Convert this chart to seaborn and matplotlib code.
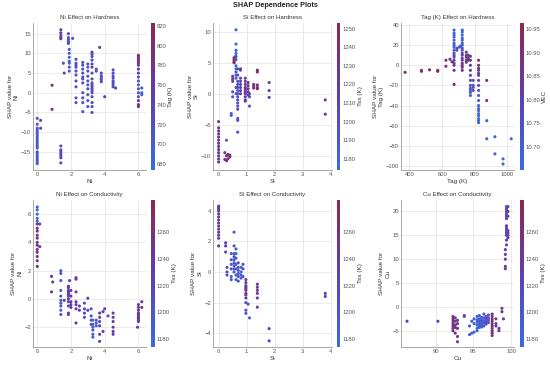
import numpy as np
import pandas as pd
import matplotlib
matplotlib.use("Agg")
import matplotlib.pyplot as plt
import seaborn as sns
from matplotlib.colors import LinearSegmentedColormap, Normalize
from matplotlib.cm import ScalarMappable
from matplotlib.ticker import MultipleLocator

# groups of points: (feature value, shap values, colour feature value)
ni_hard = [
    (0.0, [-6.5, -8, -9, -9.5, -10, -10.5, -11, -11.5, -12, -12.5, -13, -13.5, -14, -15, -15.5, -16, -16.5, -17, -17.5, -18], 705),
    (0.2, [-7, -9], 760),
    (0.88, [-4.2, 1.9], 790),
    (1.4, [16, 15.2, 14.5, 14, 13.7], 760),
    (1.4, [-13.5, -14.5, -15, -15.5, -16, -16.5, -17.8], 730),
    (1.55, [7.5], 720),
    (1.6, [5], 735),
    (1.85, [15, 14, 13.5, 13, 12.8, 12.5], 715),
    (1.9, [11, 10, 9, 8, 7.5, 6.5, 5.5], 700),
    (2.1, [13.8], 720),
    (2.3, [8.5, 7.5, 7, 6.5, 5.5, 4.5, 3, 1.5, -1.3, -2.5], 725),
    (2.7, [7.7, 7, 6, 5, 4, 3.5, 2.5, 0, -1.3, -2.5, -4.8], 720),
    (3.0, [7.3, 6.5, 5.5, 4.2, 3, 2, 1, -0.5, -2, -3.5], 715),
    (3.25, [10.3, 9.8, 9.2, 8.3, 7.3, 6.5, 5, 3.5, 2.5, 2, 1.5, 1, 0.5, 0, -1, -2.5, -3.5, -5], 730),
    (3.5, [6, 5.5], 720),
    (3.7, [11.5], 760),
    (3.8, [5, 4.3, 3.8, 3.3, 2.8], 725),
    (4.0, [-1], 750),
    (4.5, [5.8, 5, 4.3, 3.7, 3, 2.5, 2, 1.5], 720),
    (4.65, [1.2], 740),
    (6.0, [9.5, 9, 8.5, 8, 7.5, 7, 6, 5, 4, 3, 2, 1, 0, -1, -2, -3, -3.5],
     [810, 805, 800, 795, 790, 780, 760, 740, 720, 710, 700, 700, 710, 730, 760, 780, 790]),
    (6.2, [1.2, 0, -0.5], 700),
]

si_hard = [
    (0.0, [-4.5, -5.5, -6, -6.5, -7, -7.5, -8, -8.5, -9, -9.5, -10, -10.5, -11], 1225),
    (0.22, [-9.5, -10.6], 1230),
    (0.28, [-10, -10.8, -7.5], [1235, 1230, 1185]),
    (0.33, [-10.5, -9.8], 1240),
    (0.4, [-10.2, -9.9], 1235),
    (0.45, [-3.2, -3.5], 1185),
    (0.5, [2.8, 2.4, 2, 0.3, -0.5], [1230, 1225, 1220, 1200, 1195]),
    (0.55, [5.8, 5.5, 5.2, 5], 1245),
    (0.6, [6, 5.5], 1240),
    (0.62, [10.3, 8, 7, 6.5, 6, 5.5, 4.5, 4, 3.5, 3, 2.5, 1, 0], 1185),
    (0.68, [4, 3, 2, 1.5, 1, 0.5, 0, -0.5, -1, -1.5, -2, -2.5, -4, -4.3, -6.2], 1200),
    (0.78, [4, 3.8, 2.5, 2, 1.5, 1, 0.5, 0], 1215),
    (0.95, [2.5, 2, 1.5, 1, 0.8, 0.5, 0.2, 0, -0.5, -1, -1.2], 1220),
    (1.05, [1.8, 1.3, 0.8, 0.3, -0.2], 1230),
    (1.1, [0, -0.5, -2], 1195),
    (1.25, [1.5, 1.2, 0.9], 1235),
    (1.38, [3.8, 3.5, 1.4, 1, 0.8], 1240),
    (1.8, [1.8, 0.5, -0.6], 1215),
    (3.8, [-1, -3.3], 1230),
]

tag_hard = [
    (373, [-7], 10.93),
    (473, [-5, -6], 10.92),
    (523, [-4.5], 10.92),
    (573, [-5, -6], 10.93),
    (623, [5, -1], 10.91),
    (648, [6], 10.90),
    (660, [3.5], 10.88),
    (673, [35, 32, 30, 28, 25, 22, 20, 18, 15, 12, 10, 8, 5, 2, 0, -5, -19],
     [10.67, 10.67, 10.67, 10.68, 10.68, 10.68, 10.69, 10.7, 10.72, 10.74, 10.76, 10.78, 10.8, 10.82, 10.84, 10.86, 10.9]),
    (690, [17, 15], 10.75),
    (705, [18], 10.72),
    (712, [19], 10.70),
    (723, [35, 33, 30, 27, 25, 22, 20, 17, 15, 12, 10, 7, 5, 2, 0, -2, -5],
     [10.67, 10.67, 10.68, 10.68, 10.69, 10.7, 10.71, 10.73, 10.75, 10.77, 10.79, 10.81, 10.83, 10.85, 10.86, 10.87, 10.88]),
    (748, [13, 10, 8, 5, 3], 10.85),
    (760, [10, 7, 5], 10.83),
    (773, [9, 5, 0, -5, -10, -15, -20, -23, -25, -27, -30],
     [10.9, 10.88, 10.85, 10.82, 10.8, 10.77, 10.74, 10.72, 10.7, 10.69, 10.68]),
    (790, [-15, -20, -22, -25], 10.75),
    (823, [5, 0, -3, -5, -8, -10, -15, -20, -25, -30, -35, -40, -43, -45, -48, -50, -53, -55, -57],
     [10.92, 10.9, 10.88, 10.86, 10.84, 10.82, 10.8, 10.78, 10.75, 10.72, 10.7, 10.69, 10.68, 10.68, 10.67, 10.67, 10.67, 10.67, 10.67]),
    (873, [-15, -35, -55, -73], [10.9, 10.9, 10.7, 10.68]),
    (923, [-71, -88], 10.68),
    (973, [-93, -98], 10.68),
    (1023, [-73], 10.68),
]

ni_cond = [
    (0.0, [6.5, 6.3, 6, 5.7, 5.5], 1185),
    (0.0, [5.3, 5, 4.8, 4.5, 4.3, 4, 3.8, 3.5, 3.3, 3, 2.7, 2.3], 1255),
    (0.15, [5.3, 3.7], 1240),
    (0.85, [1.6, 0.5], 1245),
    (0.92, [1.2], 1240),
    (1.4, [2, 1.8, 1.3, 0.6, 0.2, -0.1, -0.3, -0.5, -0.8, -1.1], 1195),
    (1.6, [-0.1], 1230),
    (1.85, [0.9, 0.8, 0.6, 0.5, 0.4, 0.3, 0.2, 0, -0.2, -0.5, -1, -1.1], 1235),
    (1.92, [1.3], 1225),
    (2.0, [0.6, 0.2, -0.2, -0.4, -0.6], 1230),
    (2.3, [1.5, 1.4, 0.5, -0.2, -0.4, -0.7, -1.7], 1235),
    (2.5, [-0.5, -0.8], 1230),
    (2.8, [-0.3, -0.7, -1, -1.3], 1215),
    (3.0, [0.05, -0.8], 1225),
    (3.2, [-0.7, -1.2, -1.5, -1.8], 1200),
    (3.3, [-1.5, -1.8, -2, -2.2, -2.5, -2.7], 1190),
    (3.5, [-1.5, -1.7, -1.9], 1195),
    (3.7, [-1, -1.3, -1.6, -1.9, -2.5, -3], 1230),
    (3.9, [-0.9, -2.3], 1230),
    (4.0, [-0.7], 1225),
    (4.2, [-1.2], 1220),
    (4.5, [-1, -1.3, -1.6, -2, -2.3, -2.5], 1235),
    (6.0, [-0.4, -0.6, -0.8, -1, -1.1, -1.2, -1.3, -1.4, -1.5, -1.6], 1240),
    (5.95, [-2], 1230),
    (6.2, [-0.2, -0.6], 1245),
]

si_cond = [
    (0.0, [4.3, 4.2, 4.1, 4, 3.8, 3.6, 3.4, 3.2, 3, 2.8, 2.6, 2.4, 2.2, 1.7], 1240),
    (0.25, [1.9, 1.7, 1.3], 1230),
    (0.3, [0.3, 0, -0.2], 1215),
    (0.45, [1.2, 0.8, 0.5, 0.2, -0.3, -0.5], 1205),
    (0.55, [2.6, 1.7, 1.2, 1, 0.8, 0.6, 0.4, 0.2, 0], 1200),
    (0.62, [1.5, 1.2, 0.9, 0.5, 0.2, -0.2, -0.5], 1195),
    (0.7, [0.6, 0.3, 0.1, -0.1, -0.3, -0.6], 1200),
    (0.8, [0.3, 0, -0.2, -0.4], 1195),
    (0.87, [0.5, 0.2, -0.3], 1205),
    (0.97, [-0.5, -0.7, -0.9, -1, -1.1, -1.2, -1.4, -1.5, -1.7], 1245),
    (0.97, [-2, -2.5, -2.7], 1195),
    (1.05, [-2.1], 1215),
    (1.1, [-3], 1190),
    (1.38, [-0.8, -1, -1.2, -1.4, -1.7, -2.3], 1240),
    (1.8, [-3.7, -4.5], 1230),
    (3.8, [-1.4, -1.6], 1230),
]

cu_cond = [
    (86.2, [-3], 1230),
    (90.3, [-3], 1230),
    (92.3, [-2, -2.5, -3, -3.5, -4, -4.5, -5], 1260),
    (92.6, [-2.3, -3, -3.8, -4.3, -5.5], 1250),
    (92.9, [-2.8, -3.5, -4.5, -6.2, -7.3], 1245),
    (93.8, [-1.8, -2], 1215),
    (94.5, [-4, -5.8], 1200),
    (94.8, [-5.5, -3], 1195),
    (95.1, [-5.3, -2.5, -3.5], 1190),
    (95.5, [-2, -2.7, -3.2, -3.8, -4.5, -5], 1185),
    (95.8, [-1.8, -2.5, -3, -3.5, -4, -4.3], 1190),
    (96.1, [-2.2, -2.8, -3.2, -3.7, -4.2], 1195),
    (96.4, [-1.5, -2.3, -2.9, -3.4, -4], 1200),
    (96.7, [-2, -2.6, -3.1, -3.6], 1205),
    (97.0, [-1.7, -2.3, -2.8, -3.3], 1210),
    (97.5, [-1.5, -2, -2.5, -3, -3.5, -4, -4.5, -5, -5.5, -6], 1260),
    (98.0, [-2.5, -3.5, -4], 1240),
    (98.4, [-4.5, -5], 1235),
    (98.8, [-0.3, -1], 1250),
    (99.0, [-2.5], 1240),
    (99.25, [12, 11, 10, 8.5, 8], 1240),
    (99.4, [21, 20.5, 20, 19.5, 19, 18.5, 17, 16.5, 16, 15.5, 15, 14, 13], 1230),
    (99.6, [21, 20, 19, 16, 15.5, 15, 14.5], 1225),
]

panels = [
    ("Ni Effect on Hardness", "Ni", "Tag (K)", ni_hard, (674, 823), np.arange(680, 821, 20)),
    ("Si Effect on Hardness", "Si", "Tss (K)", si_hard, (1174, 1253), np.arange(1180, 1251, 10)),
    ("Tag (K) Effect on Hardness", "Tag (K)", "VEC", tag_hard, (10.65, 10.963), np.arange(10.70, 10.96, 0.05)),
    ("Ni Effect on Conductivity", "Ni", "Tss (K)", ni_cond, (1174, 1284), np.arange(1180, 1261, 20)),
    ("Si Effect on Conductivity", "Si", "Tss (K)", si_cond, (1174, 1284), np.arange(1180, 1261, 20)),
    ("Cu Effect on Conductivity", "Cu", "Tss (K)", cu_cond, (1174, 1284), np.arange(1180, 1261, 20)),
]

xlims = [(-0.25, 6.45), (-0.2, 4.04), (348, 1040), (-0.25, 6.45), (-0.2, 4.04), (85.4, 100.4)]
ylims = [(-19.6, 17.7), (-12.3, 11.4), (-104, 42), (-3.4, 7.0), (-4.9, 4.7), (-8.4, 22.4)]
xsteps = [2, 1, 200, 2, 1, 5]
ysteps = [5, 5, 20, 2, 2, 5]


def to_frame(groups):
    rows = []
    for x, ys, cs in groups:
        if not isinstance(cs, list):
            cs = [cs] * len(ys)
        for y, c in zip(ys, cs):
            rows.append((x, y, c))
    return pd.DataFrame(rows, columns=["x", "y", "c"])


sns.set_style("whitegrid")
plt.rcParams["font.family"] = ["Liberation Sans", "DejaVu Sans"]

cmap = LinearSegmentedColormap.from_list("shapish", ["#3a6be0", "#5e40b0", "#8e2650"])

W, H = 550, 367
fig = plt.figure(figsize=(5.5, 3.67), dpi=100)

cols = [(33, 146, 151), (213, 332, 337), (401, 514, 520)]
rows = [(23, 170), (200, 347)]

for i, (title, feat, cname, groups, crange, cticks) in enumerate(panels):
    r, k = divmod(i, 3)
    left, right, cleft = cols[k]
    top, bottom = rows[r]
    ax = fig.add_axes([left / W, 1 - bottom / H, (right - left) / W, (bottom - top) / H])
    cax = fig.add_axes([cleft / W, 1 - bottom / H, 3.5 / W, (bottom - top) / H])

    df = to_frame(groups)
    norm = Normalize(*crange)
    sns.scatterplot(data=df, x="x", y="y", hue="c", palette=cmap, hue_norm=norm,
                    s=5, linewidth=0, legend=False, ax=ax)
    ax.set_xlim(xlims[i])
    ax.set_ylim(ylims[i])
    ax.xaxis.set_major_locator(MultipleLocator(xsteps[i]))
    ax.yaxis.set_major_locator(MultipleLocator(ysteps[i]))
    ax.set_title(title, fontsize=4.4, color="#333333", pad=3)
    ax.set_xlabel(feat, fontsize=4.6, color="#333333", labelpad=1.5)
    ax.set_ylabel("SHAP value for\n" + feat, fontsize=4.6, color="#333333", labelpad=1.5)
    ax.tick_params(labelsize=4.2, colors="#555555", length=0, pad=1.5)
    ax.grid(color="#e3e3e3", linewidth=0.5)
    for side in ["top", "right"]:
        ax.spines[side].set_visible(False)
    for side in ["left", "bottom"]:
        ax.spines[side].set_color("#999999")
        ax.spines[side].set_linewidth(0.6)

    cb = fig.colorbar(ScalarMappable(norm=norm, cmap=cmap), cax=cax)
    cb.outline.set_visible(False)
    cb.set_ticks(cticks)
    if cname == "VEC":
        cb.set_ticklabels(["%.2f" % t for t in cticks])
    cax.tick_params(labelsize=4.2, colors="#555555", length=0, pad=1.5)
    cb.set_label(cname, fontsize=4.6, color="#333333", labelpad=1.5)

fig.suptitle("SHAP Dependence Plots", fontsize=5.2, fontweight="bold", color="#222222", y=0.995)

fig.savefig("out.png", dpi=100)
